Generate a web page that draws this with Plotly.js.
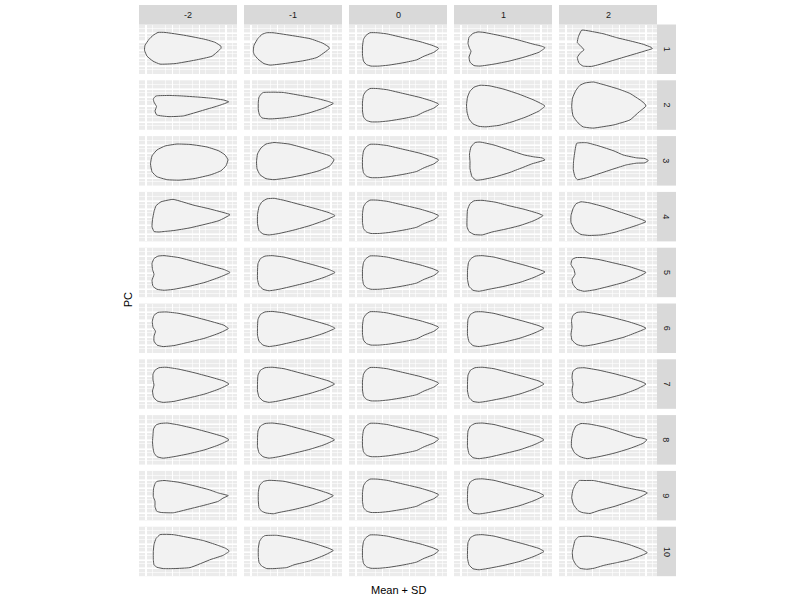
<!DOCTYPE html>
<html><head><meta charset="utf-8">
<script src="https://cdn.plot.ly/plotly-3.0.1.min.js"></script>
<style>html,body{margin:0;padding:0;background:#fff}</style>
</head><body><div id="chart" style="width:800px;height:600px"></div>
<script>
// Facet labels
const sdLevels = ['-2', '-1', '0', '1', '2'];
const pcLabels = ['1', '2', '3', '4', '5', '6', '7', '8', '9', '10'];
const xTitle = 'Mean + SD';
const yTitle = 'PC';

const mean_shape = [[89.5,24.5],[85,28],[75,32],[67.7,35.7],[55,38.5],[40,41],[30,42],[22,42],[17.5,40.5],[14.5,37],[13.5,31],[13.5,22],[14.5,15],[17,11],[21,8.3],[28,8.3],[38,9.5],[55,13.5],[71,17.3],[83,21],[89,23.5]];

const pc1_m2 = [[82,24],[73,32],[56,36],[36,39.5],[21,40],[14,37],[8,32],[5.5,26],[6,21],[10,15],[14,11],[19,8],[26,8],[46,11],[66,15],[76,18],[82,22]];
const pc1_m1 = [[85.3,24.3],[73,33.3],[60,36.5],[40,39.5],[26,41],[20,39.5],[14,35],[10,30],[9.3,26.7],[10,21],[14,14],[18,10],[22.7,8.3],[29,8.3],[50,11.5],[66,14.3],[79,19],[85,23]];
const pc1_p1 = [[91,23.5],[85,28],[70,33],[55,37],[40,40],[26,42],[20,41.5],[16,38],[15,33],[17,27],[15.5,24],[14,19],[15,13],[19,9],[24,7.5],[30,8],[45,11],[62,15],[78,19.5],[88,22]];
const pc1_p2 = [[93.3,24.3],[85,27],[70,31.5],[55,36],[40,40.5],[32.7,42.3],[24,42],[20,39],[18.3,33.3],[21.5,28.5],[25,25.7],[21,21],[18.3,18.3],[19.5,12],[22.7,5.7],[31,6.7],[45,9.5],[57.7,13.3],[75,17.5],[84.3,20],[92,23]];

const pc2_m2 = [[89.7,21.7],[80,25.5],[65,30],[44.3,36],[30,36.7],[17.7,35],[16,31],[17.5,26.5],[15,22],[14.3,19],[16,16.5],[17.7,15.7],[30,15.3],[41,15.7],[60,17],[74.3,18.3],[85,20]];
const pc2_m1 = [[89.3,23.3],[80,28],[65,33],[52.7,36],[40,38],[26,39],[18,38],[15.5,35],[14.3,30],[14.3,22],[15,17],[17.5,13.5],[19.3,12.3],[30,12],[39.3,12.3],[55,15],[72.7,18.3],[83,21]];
const pc2_p1 = [[91,26],[85,31],[72,37],[58,42],[45,45.5],[32,47],[25,46.5],[19,44],[15,39],[13,32],[12.5,25],[13.5,17],[16,11],[20,7],[26,5],[35,5.5],[50,9],[65,14],[80,20],[88,24]];
const pc2_p2 = [[87,26],[80,32],[71,40],[55,45],[40,47.5],[34,48.3],[24,47],[19,43],[14,36],[12.7,26.7],[13.5,18],[17,10],[21,5],[26,2.7],[34.3,1.7],[45,4.5],[60,9],[71,13.3],[82,20.5],[86,24]];

const pc3_m2 = [[89,24],[87,30],[82,35],[72,39],[55,43],[40,44.5],[28,44],[18,41],[13,36],[11.5,28],[13,20],[18,14],[26,10],[38,8],[52,8.5],[68,11],[80,15],[86,19]];
const pc3_m1 = [[90,24],[86,30],[75,35],[60,39],[45,42],[30,44],[22,43],[16,39],[13,33],[12.5,26],[13.5,18],[17,12],[22,8],[30,6.5],[45,8],[60,12],[75,16.5],[86,20]];
const pc3_p1 = [[91,24],[85,26],[78,28],[68,32],[55,37],[40,41.5],[28,44],[22,44.5],[18,41],[16,33],[16,26],[15.5,18],[17,11],[21,6.5],[26,6],[40,9],[55,14],[70,19],[80,21],[88,22]];
const pc3_p2 = [[89.3,24.7],[86,27],[77.7,27.3],[67.7,29],[55,33],[40,38],[28,42],[18.3,44],[16,41],[14.3,34],[14.5,26],[15.5,18],[17.7,7.3],[27.7,6.7],[40,10],[55,15],[64,19],[71,20.7],[77.7,22],[86,22.7]];

const pc4_m2 = [[91,23],[80,29],[65,33],[50,36.5],[35,39],[25,40],[20,40.5],[15,40],[13,35],[13.5,28],[15,20],[17,14],[22,10],[28,8.5],[34,7.5],[40,9],[55,13.5],[70,17],[85,21]];
const pc4_m1 = [[91,24],[80,29],[66,34],[50,38.5],[35,42],[25,43.5],[19,42.5],[15,39],[13.5,32],[13.5,23],[15,15],[18,10],[23,7],[30,6.5],[40,8.5],[55,12.5],[70,16.5],[85,21]];
const pc4_p1 = [[89,24],[80,29],[66,34],[52,37.5],[38,40.5],[28,43.5],[20,43],[15,40],[13,35],[13,27],[13.5,18],[16,12],[20,9],[28,8.5],[42,10.5],[55,14],[70,17.5],[85,22]];
const pc4_p2 = [[87,30],[80,33],[68,37],[55,41],[42,43.5],[30,44],[22,43],[16,39],[12,31],[12,24],[14,17],[17,12],[22,10],[30,11],[45,15],[60,20],[72,24],[83,28]];

const pc5_m2 = [[91,25],[80,30],[66,35],[50,39],[35,42],[25,43],[18,42],[14,39],[13,33],[15,27],[13.5,22],[13,16],[15,11],[19,8.5],[25,8],[40,10],[55,14],[70,18],[85,22]];
const pc5_m1 = [[91,25],[80,30],[66,34.5],[50,38.5],[35,42],[25,43.5],[19,42],[15,38],[13.5,32],[13.5,24],[14,16],[16.5,11],[21,8.5],[28,8],[40,9.5],[55,13.5],[70,17.5],[85,22]];
const pc5_p1 = [[91,24.5],[80,30],[66,35],[50,39],[35,42],[25,44],[19,43],[15,39],[13.5,32],[13.5,23],[14.5,15],[17,11],[21,8.5],[28,8],[40,9.5],[55,13.5],[70,17.5],[85,22]];
const pc5_p2 = [[87,25],[78,30],[65,35],[50,39],[36,42.5],[25,44],[18,42],[14,37],[13,32],[16,27],[15,22],[12,17],[13,12],[17,10],[25,10],[40,12],[55,15.5],[70,19],[82,23]];

const pc6_m2 = [[89.3,25.3],[80,30],[66,35],[50,39],[35,42.5],[24,43.5],[18,42],[15,38],[15,33],[16.5,28],[14,24],[13.3,18],[15,12],[19,9],[27,8.5],[40,10],[55,13.5],[70,17.5],[85,22]];
const pc6_m1 = [[91,25],[80,30],[66,34.5],[50,38.5],[35,42],[25,43.5],[19,42],[15,38],[13.5,32],[13.5,24],[14,16],[16.5,11],[21,8.5],[28,8],[40,9.5],[55,13.5],[70,17.5],[85,22]];
const pc6_p1 = [[90,25],[80,30],[66,35],[50,39],[35,42],[25,43.5],[19,42.5],[15,38.5],[13.5,32],[13.5,24],[14,16],[16.5,11],[21,8.5],[28,8.3],[40,10],[55,14],[70,18],[85,22.5]];
const pc6_p2 = [[87,25],[78,29],[65,34],[50,38],[35,41.5],[25,43],[18,41.5],[13,37],[12,31],[13,24],[12.5,17],[14,12],[18,9],[25,8.5],[40,11],[55,14.5],[70,18.5],[82,22.5]];

const pc7_m2 = [[90,25],[80,30],[66,35],[50,39],[35,42.5],[24,43.5],[18,42],[14.5,38],[13.5,32],[15,26],[14,21],[14,15],[16,11],[20,8.5],[27,8],[40,10],[55,13.5],[70,17.5],[85,22]];
const pc7_m1 = [[90.5,25],[80,30],[66,34.5],[50,38.5],[35,42],[25,43.5],[19,42],[15,38],[13.5,32],[13.5,24],[14,16],[16.5,11],[21,8.5],[28,8],[40,9.5],[55,13.5],[70,17.5],[85,22]];
const pc7_p1 = [[90,25],[80,30],[66,35],[50,39],[35,42],[25,43.5],[19,42.5],[15,38.5],[13.5,32],[13.5,24],[14,16],[16.5,11],[21,8.5],[28,8],[40,9.5],[55,13.5],[70,17.5],[85,22]];
const pc7_p2 = [[87,25],[78,30],[65,35],[50,39],[36,42],[25,44],[18,42.5],[14,38],[13,31],[14,25],[13,18],[14,12],[18,9],[25,8.5],[40,11],[55,14.5],[70,18.5],[82,22.5]];

const pc8_m2 = [[90,25],[80,30],[66,35],[50,39],[35,42],[24,43.5],[18,42],[15,38],[14,33],[13.5,27],[14,20],[14.5,14],[17,10],[21,8.5],[28,8],[40,10],[55,13.5],[70,17.5],[85,22]];
const pc8_m1 = [[90.5,25],[80,30],[66,34.5],[50,38.5],[35,42],[25,43.5],[19,42],[15,38],[13.5,32],[13.5,24],[14,16],[16.5,11],[21,8.5],[28,8],[40,9.5],[55,13.5],[70,17.5],[85,22]];
const pc8_p1 = [[90,25],[80,30],[66,35],[50,39],[35,42.5],[25,44],[19,43],[15,39],[13.5,32],[13.5,24],[14,16],[16.5,11],[21,8.5],[28,8],[40,9.5],[55,13.5],[70,17.5],[85,22]];
const pc8_p2 = [[88,25],[84,28.5],[70,34],[55,38.5],[40,42],[28,44],[21,42],[15.5,38],[12.5,32],[12.5,25],[14,17],[17,11],[22,8.5],[30,9],[45,12],[58,16],[70,20],[78,22.5],[82,23],[86,24]];

const pc9_m2 = [[89.3,25],[84,27.5],[79.3,30.7],[66,34.5],[50,38.5],[34.3,42.3],[22,42],[17.7,40.7],[16,36],[16,30.7],[14.3,26],[14.5,18],[16,13],[17.7,10.7],[25,9.7],[40,11.5],[55,15],[70,19],[79.3,22.3],[84,23.5]];
const pc9_m1 = [[89.3,25],[80,30],[66,35],[50,39],[35,42],[29.3,43.3],[22,42.5],[17.7,40.7],[15,37],[14.3,30],[14.3,22],[15.5,15],[19.3,10.7],[25,9.5],[40,10.5],[55,14],[70,18],[84,22.5]];
const pc9_p1 = [[90,25],[80,30],[66,35],[50,39],[35,42],[25,43.5],[19,42.5],[15,38.5],[13.5,32],[13.5,24],[14,16],[16.5,11],[21,8.5],[28,8],[40,9.5],[55,13.5],[70,17.5],[85,22]];
const pc9_p2 = [[88.3,22.3],[80,27],[70,31],[55,36],[40,40],[31,43],[23,42],[19,40],[14.5,34],[12.7,27],[14,19],[17,13],[20.3,9.7],[26,9.7],[34.3,9.7],[50,13],[65,16.5],[80,19.5],[86,21]];

const pc10_m2 = [[90.3,24.7],[84,29],[72,33],[51,41.3],[35,42.3],[24.3,42.3],[18,41],[15,38.5],[14.3,33],[14.3,25],[15,18],[17,12],[21,8],[26,7.7],[34.3,8],[50,11],[64.3,14],[78,18.5],[87,22]];
const pc10_m1 = [[89.3,24],[80,29],[66,34.5],[50,38.5],[42.7,41.3],[30,42.3],[22.7,42.3],[17.7,39.7],[15,36],[14.3,30],[14.3,22],[15.5,15],[18,11],[21,9],[32.7,8.7],[45,10.7],[58,13.7],[72,17.5],[84,21.5]];
const pc10_p1 = [[90,25],[80,30],[66,35],[50,39],[35,42],[25,43.5],[19,42.5],[15,38.5],[13.5,32],[13.5,24],[14,16],[16.5,11],[21,8.5],[28,8],[40,9.5],[55,13.5],[70,17.5],[85,22]];
const pc10_p2 = [[88.3,26.3],[80,30],[70,33.5],[57.7,36.3],[45,39],[35,42],[27.7,43],[21,42],[17,38.5],[14,33],[13.3,26],[14.5,19.7],[16,14],[19.3,10.3],[25,9.7],[31,9.7],[45,12],[57.7,14.7],[70,18],[82,22.5]];

const outlines = [
  [pc1_m2, pc1_m1, mean_shape, pc1_p1, pc1_p2],
  [pc2_m2, pc2_m1, mean_shape, pc2_p1, pc2_p2],
  [pc3_m2, pc3_m1, mean_shape, pc3_p1, pc3_p2],
  [pc4_m2, pc4_m1, mean_shape, pc4_p1, pc4_p2],
  [pc5_m2, pc5_m1, mean_shape, pc5_p1, pc5_p2],
  [pc6_m2, pc6_m1, mean_shape, pc6_p1, pc6_p2],
  [pc7_m2, pc7_m1, mean_shape, pc7_p1, pc7_p2],
  [pc8_m2, pc8_m1, mean_shape, pc8_p1, pc8_p2],
  [pc9_m2, pc9_m1, mean_shape, pc9_p1, pc9_p2],
  [pc10_m2, pc10_m1, mean_shape, pc10_p1, pc10_p2]
];

// ---- layout geometry (pixels) ----
const W = 800, H = 600;
const colLeft = [139, 244, 349, 454, 559];
const panelW = 98;
const rowTop0 = 24.5, rowPitch = 55.8, panelH = 49.5;
const stripTop = 5, stripRightX0 = 657, stripRightX1 = 676;
const FONT = 'Liberation Sans, Arial, sans-serif';

const traces = [];
const layout = {
  width: W, height: H,
  margin: {l: 0, r: 0, t: 0, b: 0},
  paper_bgcolor: '#ffffff',
  plot_bgcolor: '#EBEBEB',
  showlegend: false,
  shapes: [],
  annotations: []
};

const px = x => x / W;
const py = y => 1 - y / H;

for (let r = 0; r < pcLabels.length; r++) {
  const top = rowTop0 + r * rowPitch;
  for (let c = 0; c < sdLevels.length; c++) {
    const k = r * sdLevels.length + c + 1;
    const sx = k === 1 ? '' : String(k);
    const pts = outlines[r][c].concat([outlines[r][c][0]]);
    traces.push({
      type: 'scatter', mode: 'lines',
      x: pts.map(p => p[0]), y: pts.map(p => p[1]),
      xaxis: 'x' + sx, yaxis: 'y' + sx,
      fill: 'toself', fillcolor: '#F2F2F2',
      line: {color: '#555555', width: 1, shape: 'spline', smoothing: 0.4},
      hoverinfo: 'skip'
    });
    layout['xaxis' + sx] = {
      domain: [px(colLeft[c]), px(colLeft[c] + panelW)],
      anchor: 'y' + sx, range: [0, 98],
      showgrid: true, gridcolor: '#ffffff', gridwidth: 1.1,
      tick0: 7, dtick: 26.67,
      minor: {dtick: 13.333, showgrid: true, gridcolor: '#ffffff', gridwidth: 0.6},
      showticklabels: false, ticks: '', zeroline: false, showline: false, fixedrange: true
    };
    layout['yaxis' + sx] = {
      domain: [py(top + panelH), py(top)],
      anchor: 'x' + sx, range: [50, 0],
      showgrid: true, gridcolor: '#ffffff', gridwidth: 1.1,
      tick0: 1, dtick: 8.33,
      minor: {dtick: 4.165, showgrid: true, gridcolor: '#ffffff', gridwidth: 0.6},
      showticklabels: false, ticks: '', zeroline: false, showline: false, fixedrange: true
    };
  }
  // right strip
  layout.shapes.push({type: 'rect', xref: 'paper', yref: 'paper',
    x0: px(stripRightX0), x1: px(stripRightX1), y0: py(top + panelH), y1: py(top),
    fillcolor: '#D9D9D9', line: {width: 0}, layer: 'below'});
  layout.annotations.push({xref: 'paper', yref: 'paper',
    x: px((stripRightX0 + stripRightX1) / 2), y: py(top + panelH / 2),
    xanchor: 'center', yanchor: 'middle',
    text: pcLabels[r], showarrow: false, textangle: 90,
    font: {family: FONT, size: 9, color: '#1A1A1A'}});
}
for (let c = 0; c < sdLevels.length; c++) {
  layout.shapes.push({type: 'rect', xref: 'paper', yref: 'paper',
    x0: px(colLeft[c]), x1: px(colLeft[c] + panelW), y0: py(rowTop0), y1: py(stripTop),
    fillcolor: '#D9D9D9', line: {width: 0}, layer: 'below'});
  layout.annotations.push({xref: 'paper', yref: 'paper',
    x: px(colLeft[c] + panelW / 2), y: py((stripTop + rowTop0) / 2),
    xanchor: 'center', yanchor: 'middle',
    text: sdLevels[c], showarrow: false,
    font: {family: FONT, size: 9, color: '#1A1A1A'}});
}
const gridBottom = rowTop0 + 9 * rowPitch + panelH;
layout.annotations.push({xref: 'paper', yref: 'paper',
  x: px((colLeft[0] + colLeft[4] + panelW) / 2), y: py(590),
  xanchor: 'center', yanchor: 'middle',
  text: xTitle, showarrow: false, font: {family: FONT, size: 11, color: '#000'}});
layout.annotations.push({xref: 'paper', yref: 'paper',
  x: px(128), y: py((rowTop0 + gridBottom) / 2),
  xanchor: 'center', yanchor: 'middle',
  text: yTitle, showarrow: false, textangle: -90, font: {family: FONT, size: 11, color: '#000'}});

Plotly.newPlot('chart', traces, layout, {staticPlot: true, displayModeBar: false});
</script>
</body></html>
